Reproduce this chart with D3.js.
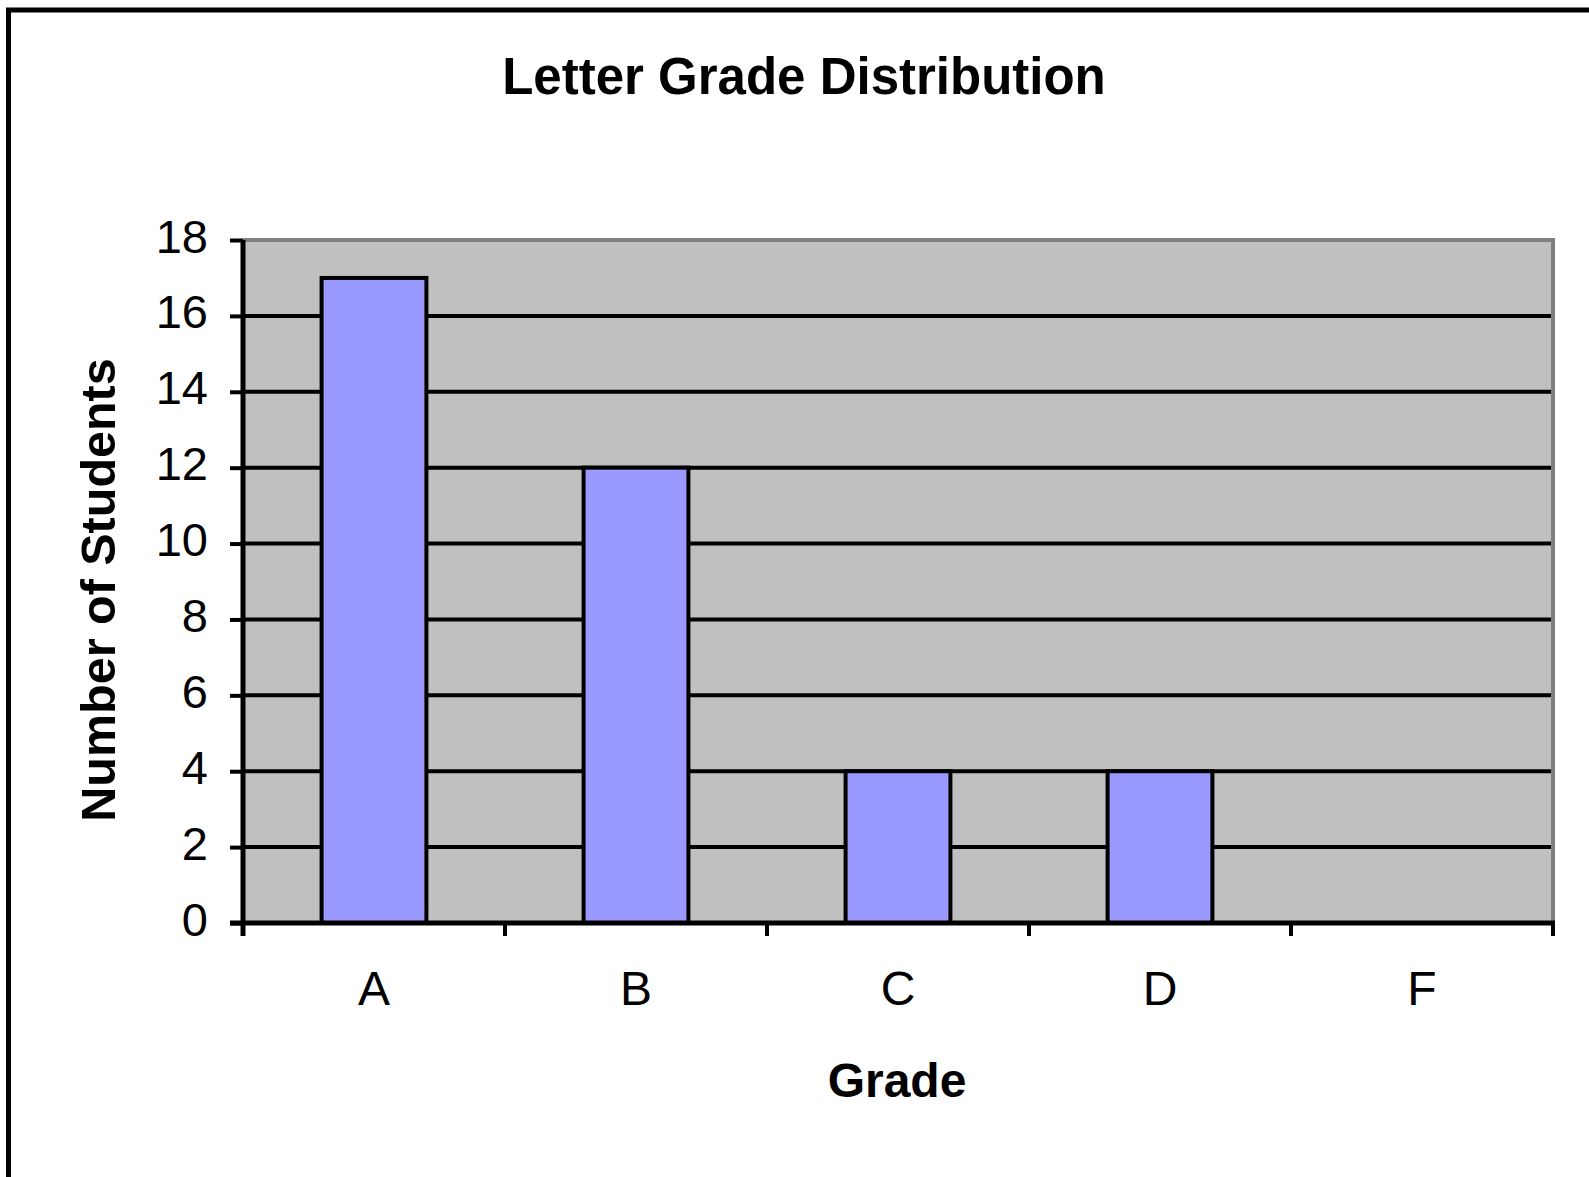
<!DOCTYPE html>
<html>
<head>
<meta charset="utf-8">
<script src="https://cdn.jsdelivr.net/npm/d3@7"></script>
<style>
  html, body { margin: 0; padding: 0; background: #ffffff; }
  svg { display: block; }
  text { font-family: "Liberation Sans", Arial, Helvetica, sans-serif; fill: #000; }
</style>
</head>
<body>
<svg id="chart" width="1589" height="1177"></svg>
<script>
// ---- Data ----
const categories = ["A", "B", "C", "D", "F"];
const counts = [17, 12, 4, 4, 0];
const yTickValues = [0, 2, 4, 6, 8, 10, 12, 14, 16, 18];
const chartTitle = "Letter Grade Distribution";
const xAxisTitle = "Grade";
const yAxisTitle = "Number of Students";

// ---- Layout ----
const plot = { left: 243, right: 1553, top: 240, bottom: 923 };

const svg = d3.select("#chart");

// outer frame (extends past the right/bottom edges)
svg.append("rect")
  .attr("x", 8.5).attr("y", 10)
  .attr("width", 1700).attr("height", 1300)
  .attr("fill", "#ffffff")
  .attr("stroke", "#000").attr("stroke-width", 5);

const x = d3.scaleBand().domain(categories).range([plot.left, plot.right]).padding(0);
const y = d3.scaleLinear().domain([0, 18]).range([plot.bottom, plot.top]);

// plot background
svg.append("rect")
  .attr("x", plot.left).attr("y", plot.top)
  .attr("width", plot.right - plot.left).attr("height", plot.bottom - plot.top)
  .attr("fill", "#c0c0c0");

// gridlines
svg.append("g").selectAll("line")
  .data(yTickValues.filter(v => v > 0 && v < 18))
  .join("line")
  .attr("x1", plot.left).attr("x2", plot.right - 1)
  .attr("y1", d => y(d)).attr("y2", d => y(d))
  .attr("stroke", "#000").attr("stroke-width", 4);

// plot border top & right (gray)
svg.append("path")
  .attr("d", `M${plot.left},${plot.top} H${plot.right} V${plot.bottom}`)
  .attr("fill", "none").attr("stroke", "#808080").attr("stroke-width", 4);

// bars
const barW = x.bandwidth() / 2.5;
svg.append("g").selectAll("rect")
  .data(categories.map((c, i) => ({ c, v: counts[i] })).filter(d => d.v > 0))
  .join("rect")
  .attr("x", d => x(d.c) + (x.bandwidth() - barW) / 2)
  .attr("width", barW)
  .attr("y", d => y(d.v))
  .attr("height", d => y(0) - y(d.v))
  .attr("fill", "#9999ff")
  .attr("stroke", "#000").attr("stroke-width", 4);

// y axis
const yAxis = svg.append("g")
  .attr("transform", `translate(${plot.left},0)`)
  .call(d3.axisLeft(y).tickValues(yTickValues).tickSize(13).tickSizeOuter(0).tickPadding(22));
yAxis.select(".domain").attr("stroke", "#000").attr("stroke-width", 5)
  .attr("d", `M0,${plot.top} V${plot.bottom + 13}`);
yAxis.selectAll(".tick line").attr("stroke", "#000").attr("stroke-width", 4);
yAxis.selectAll(".tick text")
  .attr("dy", 12)
  .style("font-size", "47px")
  .style("font-family", "'Liberation Sans', Arial, sans-serif")
  .attr("fill", "#000");

// x axis: ticks at band boundaries
const xAxisG = svg.append("g").attr("transform", `translate(0,${plot.bottom})`);
xAxisG.append("line")
  .attr("x1", plot.left - 13).attr("x2", plot.right + 2)
  .attr("y1", 0).attr("y2", 0)
  .attr("stroke", "#000").attr("stroke-width", 5);
const boundaries = categories.map(c => x(c)).concat([x(categories[categories.length - 1]) + x.bandwidth()]);
xAxisG.selectAll("line.xt")
  .data(boundaries)
  .join("line").attr("class", "xt")
  .attr("x1", d => d).attr("x2", d => d)
  .attr("y1", 0).attr("y2", 13)
  .attr("stroke", "#000").attr("stroke-width", 4);
xAxisG.selectAll("text.xl")
  .data(categories)
  .join("text").attr("class", "xl")
  .attr("x", d => x(d) + x.bandwidth() / 2)
  .attr("y", 82)
  .attr("text-anchor", "middle")
  .style("font-size", "48px")
  .text(d => d);

// titles
svg.append("text")
  .attr("x", 804).attr("y", 94)
  .attr("text-anchor", "middle")
  .style("font-size", "51px").style("font-weight", "bold")
  .text(chartTitle);

svg.append("text")
  .attr("x", 897).attr("y", 1097)
  .attr("text-anchor", "middle")
  .style("font-size", "48px").style("font-weight", "bold")
  .text(xAxisTitle);

svg.append("text")
  .attr("transform", "translate(115,590) rotate(-90)")
  .attr("text-anchor", "middle")
  .style("font-size", "48.5px").style("font-weight", "bold")
  .text(yAxisTitle);
</script>
</body>
</html>
